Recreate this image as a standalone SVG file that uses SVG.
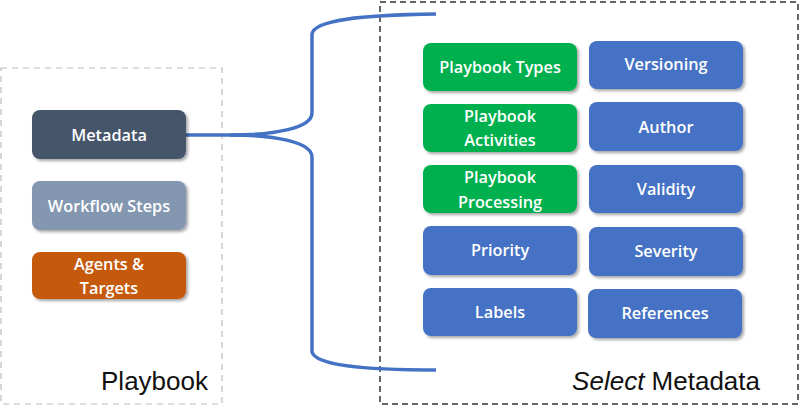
<svg xmlns="http://www.w3.org/2000/svg" width="800" height="418" viewBox="0 0 800 418">
<defs>
<filter id="sh" x="-10%" y="-20%" width="130%" height="150%">
<feDropShadow dx="2" dy="2" stdDeviation="1.6" flood-color="#000" flood-opacity="0.35"/>
</filter>
<style>
.n{font-family:"Open Sans","Liberation Sans",sans-serif;font-size:16.3px;fill:#fff;text-anchor:middle;font-weight:600}
.big{font-family:"Liberation Sans",sans-serif;font-size:26px;fill:#111}
.g{fill:#00B050}
.b{fill:#4472C4}
.conn{fill:none;stroke:#4472C4;stroke-width:3.5;stroke-linecap:butt}
</style>
</defs>
<rect width="800" height="418" fill="#fff"/>
<rect x="1" y="68" width="221" height="336" fill="none" stroke="#bbb" stroke-width="1.2" stroke-dasharray="6,5"/>
<rect x="380" y="2" width="418" height="402" fill="none" stroke="#333" stroke-width="1.5" stroke-dasharray="6,4"/>
<text class="big" x="208" y="390" text-anchor="end">Playbook</text>
<text class="big" x="760" y="390" text-anchor="end"><tspan font-style="italic">Select</tspan> Metadata</text>
<g id="connectors">
<path class="conn" d="M186,135 L230,135 C275,135 312,128 312,113 L312,34 C314,20 360,15 436,14"/>
<path class="conn" d="M230,135 C275,135 312,142 312,157 L312,352 C316,365 360,370 436,370"/>
</g>
<g id="metadata"><rect x="32" y="110" width="154" height="49" rx="8" fill="#44546A" filter="url(#sh)"/><text class="n" x="109" y="141">Metadata</text></g>
<g id="workflow-steps"><rect x="32" y="181" width="154" height="49" rx="8" fill="#8497B0" filter="url(#sh)"/><text class="n" x="109" y="212">Workflow Steps</text></g>
<g id="agents-targets"><rect x="32" y="252" width="154" height="47" rx="8" fill="#C55A11" filter="url(#sh)"/><text class="n" x="109" y="270">Agents &amp;</text><text class="n" x="109" y="294">Targets</text></g>
<g id="playbook-types"><rect class="g" x="423" y="43" width="154" height="48" rx="8" filter="url(#sh)"/><text class="n" x="500" y="73">Playbook Types</text></g>
<g id="playbook-activities"><rect class="g" x="423" y="104" width="154" height="48" rx="8" filter="url(#sh)"/><text class="n" x="500" y="122">Playbook</text><text class="n" x="500" y="146">Activities</text></g>
<g id="playbook-processing"><rect class="g" x="423" y="165" width="154" height="48" rx="8" filter="url(#sh)"/><text class="n" x="500" y="183">Playbook</text><text class="n" x="500" y="208">Processing</text></g>
<g id="priority"><rect class="b" x="423" y="226" width="154" height="49" rx="8" filter="url(#sh)"/><text class="n" x="500" y="256">Priority</text></g>
<g id="labels"><rect class="b" x="423" y="288" width="154" height="48" rx="8" filter="url(#sh)"/><text class="n" x="500" y="318">Labels</text></g>
<g id="versioning"><rect class="b" x="589" y="41" width="154" height="48" rx="8" filter="url(#sh)"/><text class="n" x="666" y="70">Versioning</text></g>
<g id="author"><rect class="b" x="589" y="102" width="154" height="49" rx="8" filter="url(#sh)"/><text class="n" x="666" y="133">Author</text></g>
<g id="validity"><rect class="b" x="589" y="165" width="154" height="48" rx="8" filter="url(#sh)"/><text class="n" x="666" y="195">Validity</text></g>
<g id="severity"><rect class="b" x="589" y="227" width="154" height="49" rx="8" filter="url(#sh)"/><text class="n" x="666" y="257">Severity</text></g>
<g id="references"><rect class="b" x="588" y="289" width="154" height="49" rx="8" filter="url(#sh)"/><text class="n" x="665" y="319">References</text></g>
</svg>
